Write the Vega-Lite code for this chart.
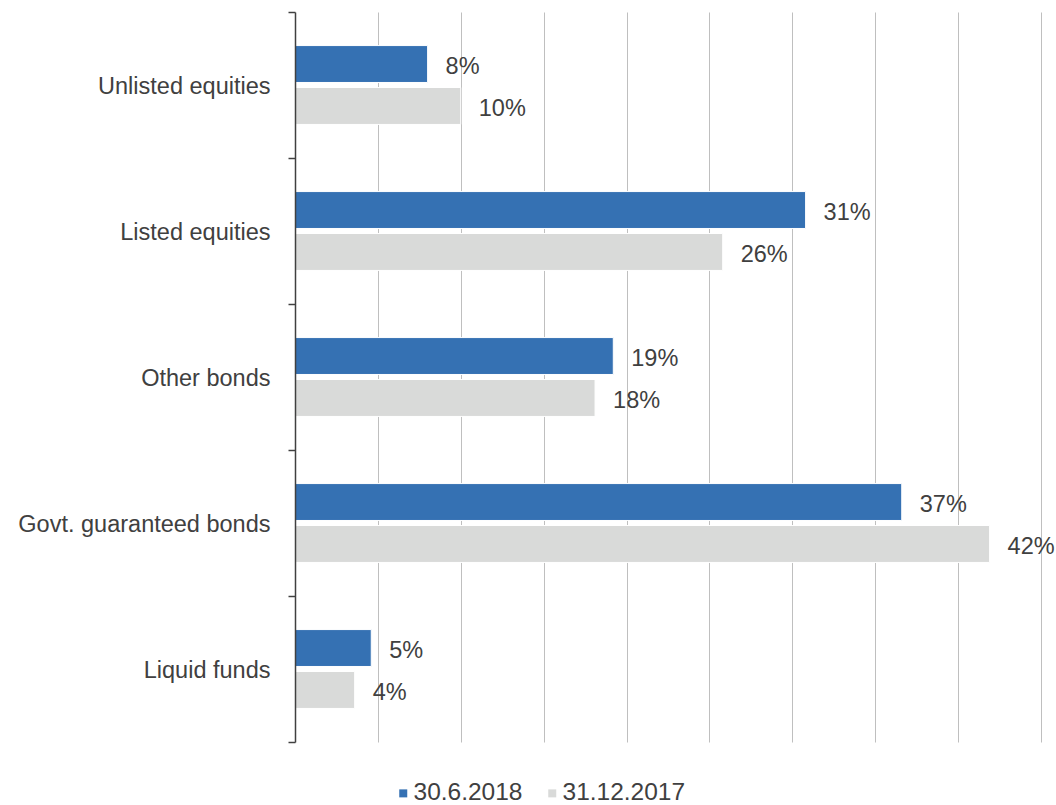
{
  "$schema": "https://vega.github.io/schema/vega-lite/v6.json",
  "width": 746,
  "height": 730,
  "autosize": {"type": "none"},
  "padding": {"left": 295, "top": 12, "right": 15, "bottom": 63},
  "background": "white",
  "config": {
    "view": {"stroke": null},
    "font": "Liberation Sans"
  },
  "data": {
    "values": [
      {"category": "Unlisted equities", "series": "30.6.2018", "value": 0.080},
      {"category": "Unlisted equities", "series": "31.12.2017", "value": 0.100},
      {"category": "Listed equities", "series": "30.6.2018", "value": 0.308},
      {"category": "Listed equities", "series": "31.12.2017", "value": 0.258},
      {"category": "Other bonds", "series": "30.6.2018", "value": 0.192},
      {"category": "Other bonds", "series": "31.12.2017", "value": 0.181},
      {"category": "Govt. guaranteed bonds", "series": "30.6.2018", "value": 0.366},
      {"category": "Govt. guaranteed bonds", "series": "31.12.2017", "value": 0.419},
      {"category": "Liquid funds", "series": "30.6.2018", "value": 0.046},
      {"category": "Liquid funds", "series": "31.12.2017", "value": 0.036}
    ]
  },
  "encoding": {
    "y": {
      "field": "category",
      "type": "nominal",
      "sort": ["Unlisted equities", "Listed equities", "Other bonds", "Govt. guaranteed bonds", "Liquid funds"],
      "scale": {"paddingInner": 0, "paddingOuter": 0},
      "axis": {
        "title": null,
        "bandPosition": 1,
        "tickExtra": true,
        "domainColor": "#404040",
        "domainWidth": 1.5,
        "tickColor": "#404040",
        "tickWidth": 1.5,
        "tickSize": 7,
        "labelFontSize": 23.5,
        "labelColor": "#404040",
        "labelPadding": 18,
        "labelLimit": 400,
        "labelOffset": 1.5,
        "labelFont": "Liberation Sans",
        "zindex": 2
      }
    },
    "yOffset": {
      "field": "series",
      "type": "nominal",
      "sort": ["30.6.2018", "31.12.2017"],
      "scale": {"paddingInner": 0.12, "paddingOuter": 0.8}
    },
    "x": {
      "field": "value",
      "type": "quantitative",
      "scale": {"domain": [0, 0.45], "nice": false},
      "axis": {
        "title": null,
        "labels": false,
        "ticks": false,
        "domain": false,
        "grid": true,
        "gridColor": "#BFBFBF",
        "gridWidth": 1,
        "values": [0.05, 0.10, 0.15, 0.20, 0.25, 0.30, 0.35, 0.40, 0.45],
        "zindex": 0
      }
    }
  },
  "layer": [
    {
      "mark": {"type": "bar", "stroke": "white", "strokeWidth": 1},
      "encoding": {
        "color": {
          "field": "series",
          "type": "nominal",
          "scale": {"domain": ["30.6.2018", "31.12.2017"], "range": ["#3571B3", "#D9DAD9"]},
          "legend": {
            "title": null,
            "orient": "none",
            "direction": "horizontal",
            "legendX": 96,
            "legendY": 769,
            "padding": 0,
            "symbolType": "square",
            "symbolSize": 64,
            "symbolStrokeWidth": 0,
            "labelFontSize": 24.5,
            "labelColor": "#404040",
            "labelFont": "Liberation Sans",
            "labelOffset": -2,
            "columnPadding": 17
          }
        }
      }
    },
    {
      "mark": {"type": "text", "align": "left", "baseline": "middle", "dx": 18, "dy": 3, "fontSize": 23.5, "color": "#404040", "font": "Liberation Sans"},
      "encoding": {
        "text": {"field": "value", "type": "quantitative", "format": ".0%"}
      }
    }
  ]
}
